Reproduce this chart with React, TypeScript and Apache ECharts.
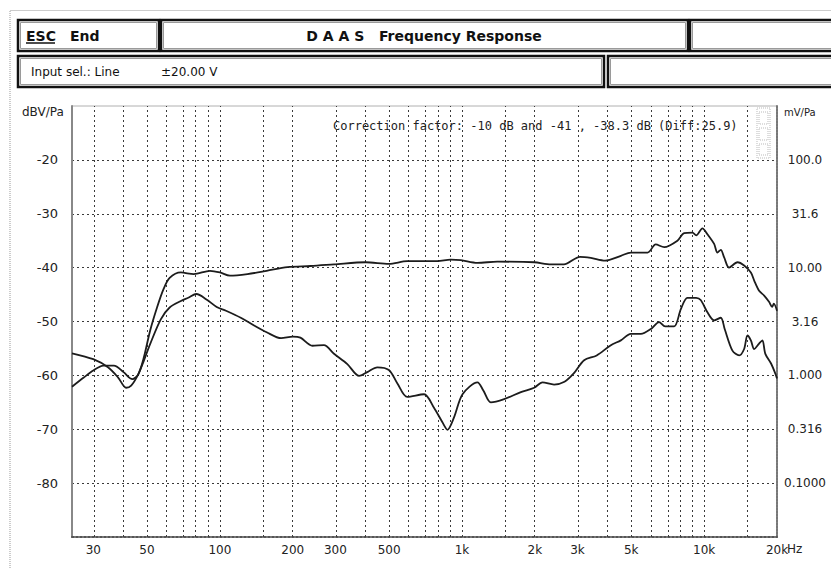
import React, { useEffect, useRef } from "react";
import * as echarts from "echarts";

// Upper curve (flat around -40 dBV/Pa)
const freqUpper = [24.5, 27.4, 30, 33, 36.5, 40, 43.5, 46, 48.5, 51.5, 55, 58.5, 62, 69, 78, 91, 100, 110, 130, 156, 190, 237, 296, 400, 499, 594, 791, 897, 988, 1158, 1400, 1986, 2328, 2636, 3070, 3404, 3900, 4531, 4980, 5840, 6310, 6840, 7760, 8270, 8950, 9270, 9840, 10320, 11000, 11350, 11720, 12100, 12680, 13740, 14630, 15600, 16100, 16870, 17700, 18570, 19100, 19400, 20000];
const dbUpper = [-62.1, -60.4, -59.1, -58.2, -58.2, -59.4, -60.7, -59.8, -56.7, -51.7, -47.4, -44.0, -41.9, -40.9, -41.2, -40.6, -40.9, -41.5, -41.2, -40.6, -39.9, -39.7, -39.4, -39.0, -39.3, -38.8, -38.8, -38.5, -38.6, -39.1, -38.9, -39.0, -39.4, -39.4, -38.0, -38.2, -38.7, -37.8, -37.2, -37.2, -35.7, -36.2, -35.0, -33.6, -33.5, -34.0, -32.7, -33.8, -35.6, -37.2, -36.7, -38.1, -40.0, -39.0, -39.6, -40.9, -42.4, -44.3, -45.2, -46.4, -47.3, -46.7, -48.0];

// Lower curve (peak near 80 Hz, dip near 870 Hz)
const freqLower = [24.5, 30, 34.5, 38, 41, 43, 46, 48.5, 51.5, 57, 62, 69, 74, 80, 88, 97, 106, 122, 139, 156, 179, 200, 215, 241, 269, 296, 336, 376, 406, 447, 499, 541, 594, 697, 766, 830, 871, 927, 1005, 1158, 1225, 1315, 1493, 1751, 1986, 2150, 2400, 2650, 2900, 3194, 3600, 4120, 4530, 4980, 5480, 6025, 6520, 6900, 7520, 8015, 8530, 9270, 9680, 10320, 11000, 11720, 12160, 13090, 13960, 14630, 15100, 15600, 16100, 16870, 17410, 17900, 18900, 19700, 20000];
const dbLower = [-55.9, -57.0, -58.5, -60.4, -62.3, -61.9, -59.8, -57.3, -54.2, -49.6, -47.4, -46.2, -45.6, -44.9, -45.9, -47.3, -48.0, -49.3, -50.8, -52.0, -53.1, -52.8, -53.0, -54.5, -54.4, -56.0, -57.9, -60.1, -59.4, -58.5, -59.0, -61.5, -64.0, -63.5, -66.0, -68.7, -70.1, -67.8, -63.5, -61.3, -62.8, -65.0, -64.4, -63.1, -62.3, -61.3, -61.7, -61.2, -59.6, -57.2, -56.3, -54.4, -53.5, -52.3, -52.3, -51.4, -50.1, -50.9, -50.9, -47.7, -45.6, -45.6, -46.0, -48.3, -49.8, -49.3, -51.4, -55.4, -56.3, -55.1, -52.6, -53.5, -55.1, -54.1, -53.5, -56.0, -57.8, -59.7, -60.6];

const gridFreqs = [30, 40, 50, 60, 70, 80, 90, 100, 150, 200, 300, 400, 500, 600, 700, 800, 900, 1000, 1500, 2000, 3000, 4000, 5000, 6000, 7000, 8000, 9000, 10000, 15000];
const xTickFreqs = [30, 50, 100, 200, 300, 500, 1000, 2000, 3000, 5000, 10000, 20000];
const xTickLabels = ["30", "50", "100", "200", "300", "500", "1k", "2k", "3k", "5k", "10k", "20k"];
const yTickValues = [-20, -30, -40, -50, -60, -70, -80];
const leftTickLabels = ["-20", "-30", "-40", "-50", "-60", "-70", "-80"];
const rightTickLabels = ["100.0", "31.6", "10.00", "3.16", "1.000", "0.316", "0.1000"];

const F_MIN = 24.5;
const F_MAX = 20000;
const DB_MIN = -90;
const DB_MAX = -10;

const lg = (f: number) => Math.log10(f);

export default function App() {
  const ref = useRef<HTMLDivElement>(null);

  useEffect(() => {
    if (!ref.current) return;
    const chart = echarts.init(ref.current, undefined, { renderer: "svg" });

    const xLabel = (v: number) => {
      const i = xTickFreqs.findIndex((f) => Math.abs(lg(f) - v) < 1e-6);
      return i >= 0 ? xTickLabels[i] : "";
    };
    const yLabel = (labels: string[]) => (v: number) => {
      const i = yTickValues.indexOf(Math.round(v));
      return i >= 0 ? labels[i] : "";
    };

    const lineColor = "#1c1c1c";
    const gridDot = { color: "#3a3a3a", width: 1, type: [2, 3] as number[] };

    const box = (x: number, y: number, w: number, h: number) => [
      { type: "rect", shape: { x, y, width: w, height: h }, style: { fill: "#fff", stroke: "#111", lineWidth: 2.5 }, z: 1 },
      { type: "rect", shape: { x: x + 2.5, y: y + 2.5, width: w - 5, height: h - 5 }, style: { fill: "none", stroke: "#9a9a9a", lineWidth: 1 }, z: 2 },
    ];

    chart.setOption({
      animation: false,
      backgroundColor: "#ffffff",
      grid: {
        left: 72,
        top: 106,
        width: 705,
        height: 431,
        show: true,
        borderColor: "#b0b0b0",
        borderWidth: 1,
        backgroundColor: "#fff",
      },
      xAxis: {
        type: "value",
        min: lg(F_MIN),
        max: lg(F_MAX),
        axisLine: { show: true, onZero: false, lineStyle: { color: "#555", width: 2, type: [2, 2] } },
        axisTick: { show: false },
        splitLine: { show: false },
        axisLabel: {
          customValues: xTickFreqs.map(lg),
          formatter: xLabel,
          color: "#222",
          fontFamily: "DejaVu Sans",
          fontSize: 12,
          margin: 7,
        },
      },
      yAxis: [
        {
          type: "value",
          min: DB_MIN,
          max: DB_MAX,
          interval: 10,
          position: "left",
          axisLine: { show: true, lineStyle: { color: "#888", width: 2 } },
          axisTick: { show: false },
          splitLine: { show: true, showMinLine: false, showMaxLine: false, lineStyle: gridDot },
          axisLabel: {
            formatter: yLabel(leftTickLabels),
            color: "#222",
            fontFamily: "DejaVu Sans",
            fontSize: 13,
            margin: 14,
          },
        },
        {
          type: "value",
          min: DB_MIN,
          max: DB_MAX,
          interval: 10,
          position: "right",
          axisLine: { show: true, lineStyle: { color: "#777", width: 2, type: [2, 1] } },
          axisTick: { show: false },
          splitLine: { show: false },
          axisLabel: {
            formatter: yLabel(rightTickLabels),
            color: "#222",
            fontFamily: "DejaVu Sans",
            fontSize: 12,
            align: "center",
            margin: 28,
          },
        },
      ],
      series: [
        {
          type: "line",
          name: "upper",
          data: freqUpper.map((f, i) => [lg(f), dbUpper[i]]),
          showSymbol: false,
          symbol: "none",
          smooth: 0.3,
          lineStyle: { color: lineColor, width: 1.8 },
          z: 5,
          markLine: {
            silent: true,
            symbol: ["none", "none"],
            label: { show: false },
            lineStyle: gridDot,
            z: 1,
            data: gridFreqs.map((f) => ({ xAxis: lg(f) })),
          },
        },
        {
          type: "line",
          name: "lower",
          data: freqLower.map((f, i) => [lg(f), dbLower[i]]),
          showSymbol: false,
          symbol: "none",
          smooth: 0.3,
          lineStyle: { color: lineColor, width: 1.8 },
          z: 5,
        },
      ],
      graphic: [
        {
          type: "polyline",
          shape: { points: [[10, 568], [10, 10.5], [831, 10.5]] },
          style: { fill: "none", stroke: "#999", lineWidth: 1, lineDash: [1, 1] },
        },
        ...box(18, 20, 141, 31),
        ...box(161, 20, 527, 31),
        ...box(690, 20, 145, 31),
        ...box(18, 56, 586, 31),
        ...box(608, 56, 227, 31),
        { type: "text", x: 26, y: 36, z: 3, style: { text: "ESC", font: "bold 14px 'DejaVu Sans'", fill: "#111", verticalAlign: "middle" } },
        { type: "line", shape: { x1: 26, y1: 43, x2: 55, y2: 43 }, z: 3, style: { stroke: "#111", lineWidth: 1.5 } },
        { type: "text", x: 70, y: 36, z: 3, style: { text: "End", font: "bold 14px 'DejaVu Sans'", fill: "#111", verticalAlign: "middle" } },
        { type: "text", x: 424, y: 36, z: 3, style: { text: "D A A S   Frequency Response", font: "bold 14px 'DejaVu Sans'", fill: "#111", align: "center", verticalAlign: "middle" } },
        { type: "text", x: 31, y: 72, z: 3, style: { text: "Input sel.: Line", font: "12px 'DejaVu Sans'", fill: "#111", verticalAlign: "middle" } },
        { type: "text", x: 161, y: 72, z: 3, style: { text: "±20.00 V", font: "12px 'DejaVu Sans'", fill: "#111", verticalAlign: "middle" } },
        { type: "text", x: 22, y: 112, style: { text: "dBV/Pa", font: "12px 'DejaVu Sans'", fill: "#222", verticalAlign: "middle" } },
        { type: "text", x: 784, y: 112, style: { text: "mV/Pa", font: "10px 'DejaVu Sans'", fill: "#222", verticalAlign: "middle" } },
        { type: "text", x: 787, y: 549, style: { text: "Hz", font: "12px 'DejaVu Sans'", fill: "#222", verticalAlign: "middle" } },
        { type: "text", x: 333, y: 126, z: 10, style: { text: "Correction factor: -10 dB and -41 , -38.3 dB (Diff:25.9)", font: "12px 'DejaVu Sans Mono'", fill: "#222", verticalAlign: "middle" } },
        { type: "rect", shape: { x: 757, y: 108, width: 13, height: 50 }, z: 10, style: { fill: "none", stroke: "#bbb", lineWidth: 1, lineDash: [1, 1] } },
        { type: "rect", shape: { x: 759, y: 112, width: 9, height: 12 }, z: 10, style: { fill: "none", stroke: "#bbb", lineWidth: 1, lineDash: [1, 1] } },
        { type: "rect", shape: { x: 759, y: 128, width: 9, height: 12 }, z: 10, style: { fill: "none", stroke: "#bbb", lineWidth: 1, lineDash: [1, 1] } },
        { type: "rect", shape: { x: 759, y: 144, width: 9, height: 11 }, z: 10, style: { fill: "none", stroke: "#bbb", lineWidth: 1, lineDash: [1, 1] } },
      ],
    });

    return () => chart.dispose();
  }, []);

  return (
    <div
      ref={ref}
      style={{ position: "fixed", left: 0, top: 0, width: 831, height: 568, background: "#fff" }}
    />
  );
}
